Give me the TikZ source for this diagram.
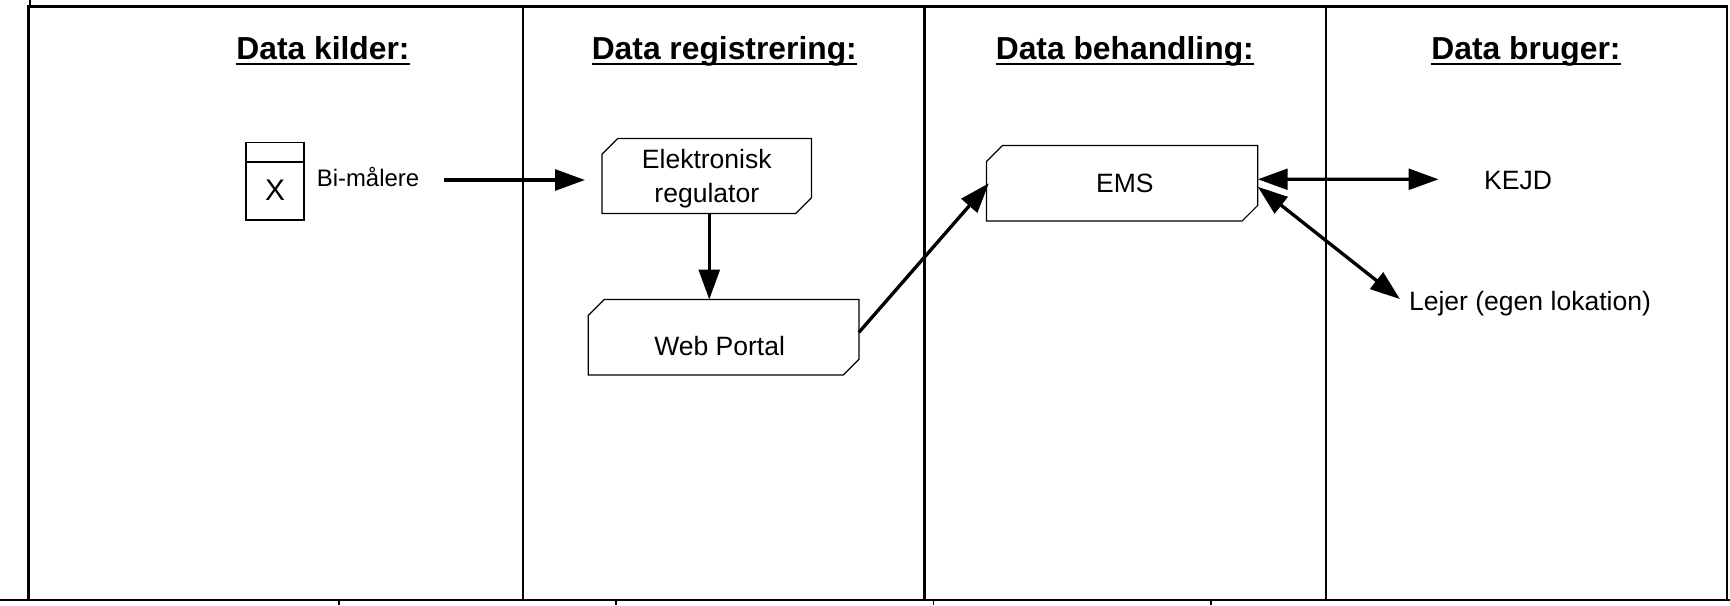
\documentclass[tikz,border=0pt]{standalone}
\usepackage{fontspec}
\setmainfont{Liberation Sans}
\usepackage{tikz}
\usetikzlibrary{arrows.meta,shapes.misc}
\newcommand{\underhead}[1]{\setbox0=\hbox{#1}\rlap{\rule[-3.2pt]{\wd0}{1.2pt}}\box0}
\newcommand{\lowertext}[1]{\raisebox{-1.5pt}[\height][\depth]{#1}}
\tikzset{
	framewall/.style={line width=1.4pt},
	framethin/.style={line width=0.7pt},
	headtext/.style={font=\fontsize{18.1}{21}\selectfont\bfseries, inner sep=0pt},
	plaintext/.style={font=\fontsize{15.1}{18}\selectfont, inner sep=0pt, align=center},
	procbox/.style={draw, line width=0.7pt, outer sep=0pt, inner sep=0pt, align=center, font=\fontsize{15.1}{18}\selectfont, chamfered rectangle, chamfered rectangle xsep=4.4pt, chamfered rectangle ysep=4.6pt, chamfered rectangle corners={north west,south east}},
	meterbox/.style={draw, line width=0.7pt, rectangle, outer sep=0pt, inner sep=0pt, minimum width=33pt},
	flow/.style={line width=1.9pt, -{Triangle[length=17pt,width=11.8pt]}},
	dualflow/.style={line width=1.9pt, {Triangle[length=17pt,width=11.8pt]}-{Triangle[length=17pt,width=11.8pt]}}
}
\begin{document}
\begin{tikzpicture}[x = 0.02cm, y = -0.02cm]
	\useasboundingbox (0,0) rectangle (1730,605);
	\draw[framewall] (28.7,600) -- (28.7,6.5) -- (1727,6.5) -- (1727,600);
	\draw[framewall] (0,600) -- (1730,600);
	\draw[framewall] (523,6.5) -- (523,600);
	\draw[framewall] (924.5,6.5) -- (924.5,600);
	\draw[framewall] (1326,6.5) -- (1326,600);
	\draw[framethin] (30,0) -- (30,6.5);
	\draw[framethin] (339,600) -- (339,605);
	\draw[framethin] (616,600) -- (616,605);
	\draw[framethin] (933.5,600) -- (933.5,605);
	\draw[framethin] (1211,600) -- (1211,605);

	\node[headtext] (headkilder) at (323,51) {\underhead{Data kilder:}};
	\node[headtext] (headreg) at (724.3,51) {\underhead{Data registrering:}};
	\node[headtext] (headbeh) at (1124.8,51) {\underhead{Data behandling:}};
	\node[headtext] (headbrug) at (1526,51) {\underhead{Data bruger:}};

	\node[meterbox, minimum height=11.2pt] (metertop) at (275,152.1) {};
	\node[meterbox, minimum height=32.9pt, font=\fontsize{17}{20}\selectfont] (meterx) at (275,191) {\raisebox{0.6pt}{X}};
	\node[plaintext, font=\fontsize{13.6}{16}\selectfont] (bimaaler) at (368,177) {Bi-målere};

	\node[procbox, minimum width=119.3pt, minimum height=42.7pt] (elreg) at (706.8,176) {\lowertext{Elektronisk}\\[1pt]\lowertext{regulator}};
	\node[procbox, minimum width=154pt, minimum height=43pt] (web) at (723.6,337.3) {\vphantom{Web}\raisebox{-4.8pt}[0pt][0pt]{Web Portal\hspace{4.5pt}}};
	\node[procbox, minimum width=154.4pt, minimum height=43pt] (ems) at (1122.2,183.3) {\hspace*{3pt}EMS};

	\node[plaintext] (kejd) at (1518,181) {KEJD};
	\node[plaintext, inner sep=5pt] (lejer) at (1530,304) {Lejer (egen lokation)};

	\coordinate (bistart) at (443.8,180);
	\coordinate (elregin) at (585,180);
	\coordinate (kejdin) at (1438.5,179.3);

	\draw[flow] (bistart) -- (elregin);
	\draw[flow] ([xshift=1.4pt]elreg.south) -- ([xshift=1.4pt]elreg.south |- web.north);
	\draw[flow] ([yshift=2.8pt]web.east) -- ([xshift=1.3pt]ems.west);
	\draw[dualflow] ([yshift=2.3pt]ems.east) -- (kejdin);
	\draw[dualflow] ([yshift=-2pt]ems.east) -- ([yshift=2.8pt]lejer.west);
\end{tikzpicture}
\end{document}
